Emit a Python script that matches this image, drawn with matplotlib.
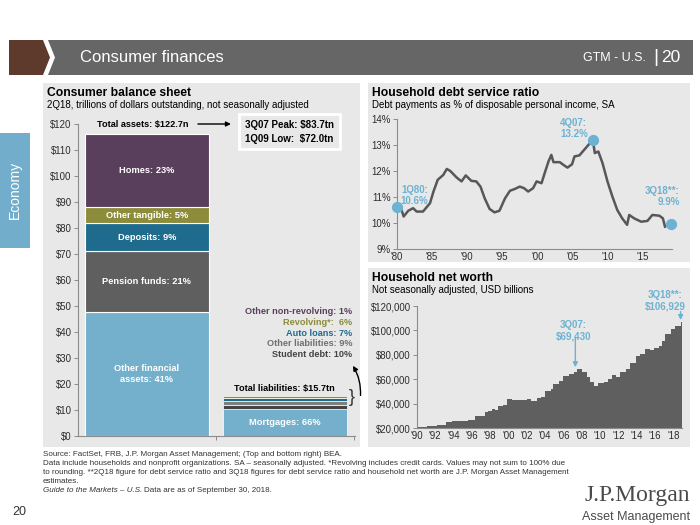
import numpy as np
import matplotlib.pyplot as plt
from matplotlib.patches import Rectangle, Polygon

plt.rcParams['font.family'] = ['Liberation Sans', 'DejaVu Sans']

W, H = 700, 525

# consumer balance sheet, 2Q18, $tn (bottom to top)
asset_labels = ['Other financial\nassets: 41%', 'Pension funds: 21%', 'Deposits: 9%',
                'Other tangible: 5%', 'Homes: 23%']
asset_vals = [47.7, 23.4, 10.7, 6.1, 28.3]
asset_cols = ['#74b0cc', '#5f5f5f', '#1f6b8e', '#8c8c3a', '#5a3f5c']

liab_labels = ['Mortgages: 66%', 'Student debt: 10%', 'Other liabilities: 9%',
               'Auto loans: 7%', 'Other non-revolving: 1%', 'Revolving*:  6%']
liab_vals = [10.36, 1.57, 1.41, 1.10, 0.16, 0.94]
liab_cols = ['#74b0cc', '#444444', '#7f7f7f', '#1f6b8e', '#5a3f5c', '#8c8c3a']

# legend list on the right of the liabilities bar (top to bottom)
liab_list = ['Other non-revolving: 1%', 'Revolving*:  6%', 'Auto loans: 7%',
             'Other liabilities: 9%', 'Student debt: 10%']
liab_list_cols = ['#5a3f5c', '#8c8c3a', '#1f6b8e', '#6f6f6f', '#444444']

# household debt service ratio, %
dsr_year = [1980.0, 1980.4, 1980.95, 1981.6, 1982.3, 1982.8, 1983.7, 1984.7, 1985.2, 1985.8,
            1986.6, 1987.1, 1987.6, 1988.5, 1989.2, 1989.8, 1990.6, 1991.3, 1991.9, 1992.5,
            1993.2, 1993.9, 1994.6, 1995.4, 1996.1, 1996.8, 1997.5, 1998.1, 1998.7, 1999.4,
            1999.9, 2000.6, 2001.1, 2001.6, 2002.0, 2002.3, 2003.2, 2003.7, 2004.3, 2004.95,
            2005.3, 2006.0, 2006.7, 2007.4, 2007.9, 2008.2, 2008.7, 2009.3, 2010.0, 2010.7,
            2011.4, 2012.1, 2012.8, 2013.1, 2013.8, 2014.8, 2015.7, 2016.4, 2017.4, 2017.9,
            2018.2]
dsr_val = [10.6, 10.70, 10.25, 10.47, 10.57, 10.44, 10.44, 10.76, 11.21, 11.66,
           11.85, 12.08, 12.00, 11.75, 11.60, 11.83, 11.62, 11.60, 11.40, 10.95,
           10.54, 10.41, 10.47, 10.95, 11.24, 11.31, 11.40, 11.34, 11.21, 11.34,
           11.60, 11.53, 11.96, 12.37, 12.62, 12.34, 12.34, 12.24, 12.13, 12.26,
           12.56, 12.60, 12.82, 13.04, 13.20, 12.69, 12.75, 12.30, 11.60, 11.02,
           10.50, 10.18, 9.93, 10.31, 10.18, 10.05, 10.08, 10.31, 10.28, 10.18,
           9.86]
dsr_pt_year = [1980.0, 2007.9, 2019.0]
dsr_pt_val = [10.6, 13.2, 9.97]

# household net worth, USD bn
nw_year = [1990.0, 1991.1, 1992.2, 1993.2, 1993.8, 1994.7, 1995.6, 1996.3, 1997.1, 1997.4,
           1997.8, 1998.2, 1998.5, 1998.9, 1999.4, 1999.8, 2000.4, 2000.9, 2001.5, 2002.0,
           2002.5, 2003.1, 2003.5, 2004.0, 2004.6, 2004.9, 2005.5, 2006.0, 2006.6, 2007.1,
           2007.5, 2008.0, 2008.6, 2008.9, 2009.3, 2009.8, 2010.4, 2010.9, 2011.3, 2011.7,
           2012.2, 2012.8, 2013.3, 2013.9, 2014.4, 2014.9, 2015.5, 2015.9, 2016.4, 2016.8,
           2017.1, 2017.7, 2018.2, 2018.8, 2018.95]
nw_val = [21060, 21900, 22700, 24600, 25400, 26000, 26800, 29500, 30100, 32800,
          33600, 35500, 35000, 38200, 39100, 43700, 43100, 43100, 42600, 43700,
          42300, 45000, 45600, 50500, 51900, 56000, 58700, 62800, 64600, 66000,
          68000, 65500, 61400, 57900, 54600, 56800, 57900, 60100, 63300, 61400,
          66000, 68200, 73600, 79100, 80500, 84600, 84000, 85900, 87300, 91400,
          96900, 100900, 103600, 106929]

BG = '#e8e8e8'
BLUE_TXT = '#6cb2d2'
DARK = '#333333'


def box(x0, y0, x1, y1):
    return [x0 / W, 1 - y1 / H, (x1 - x0) / W, (y1 - y0) / H]


def fx(x):
    return x / W


def fy(y):
    return 1 - y / H


fig = plt.figure(figsize=(7, 5.25), dpi=100)
fig.patch.set_facecolor('white')

# header
fig.patches.append(Polygon([(fx(9), fy(40)), (fx(43), fy(40)), (fx(50), fy(57.5)),
                            (fx(43), fy(75)), (fx(9), fy(75))],
                           closed=True, transform=fig.transFigure, fc='#5e3a2d', ec='none'))
fig.patches.append(Polygon([(fx(48), fy(40)), (fx(693), fy(40)), (fx(693), fy(75)),
                            (fx(48), fy(75)), (fx(55), fy(57.5))],
                           closed=True, transform=fig.transFigure, fc='#666666', ec='none'))
fig.text(fx(80), fy(58), 'Consumer finances', color='white', fontsize=12,
         va='center', ha='left')
fig.text(fx(680), fy(57), '20', color='white', fontsize=12.5, va='center', ha='right')
fig.text(fx(656), fy(57), '|', color='white', fontsize=14, va='center', ha='center')
fig.text(fx(646), fy(58), 'GTM - U.S.', color='white', fontsize=9, va='center', ha='right')

# panels
for b in [(43, 83, 360, 447), (368, 83, 690, 262), (368, 268, 690, 447)]:
    fig.patches.append(Rectangle((fx(b[0]), fy(b[3])), (b[2] - b[0]) / W, (b[3] - b[1]) / H,
                                 transform=fig.transFigure, fc=BG, ec='none', zorder=0))

# side tab
fig.patches.append(Rectangle((0, fy(248)), 30 / W, 115 / H, transform=fig.transFigure,
                             fc='#72aecb', ec='none'))
fig.text(fx(15), fy(190), 'Economy', color='white', fontsize=10,
         rotation=90, ha='center', va='center')

# titles
fig.text(fx(47), fy(93), 'Consumer balance sheet', fontsize=8.7, fontweight='bold',
         color='black', va='center')
fig.text(fx(47), fy(105), '2Q18, trillions of dollars outstanding, not seasonally adjusted',
         fontsize=7, color='black', va='center')
fig.text(fx(372), fy(93), 'Household debt service ratio', fontsize=8.7, fontweight='bold',
         color='black', va='center')
fig.text(fx(372), fy(105), 'Debt payments as % of disposable personal income, SA',
         fontsize=7, color='black', va='center')
fig.text(fx(372), fy(278), 'Household net worth', fontsize=8.7, fontweight='bold',
         color='black', va='center')
fig.text(fx(372), fy(290), 'Not seasonally adjusted, USD billions',
         fontsize=7, color='black', va='center')


def style(ax):
    ax.set_zorder(5)
    ax.set_facecolor('none')
    for s in ['top', 'right']:
        ax.spines[s].set_visible(False)
    for s in ['left', 'bottom']:
        ax.spines[s].set_color('#8c8c8c')
        ax.spines[s].set_linewidth(0.8)
    ax.tick_params(colors='#8c8c8c', labelcolor='#2b2b2b', labelsize=6.9, length=3,
                   width=0.7, pad=1.5)


# ---- balance sheet bars ----
ax1 = fig.add_axes(box(78, 124, 355, 436))
style(ax1)
bottom = 0
for lab, v, c in zip(asset_labels, asset_vals, asset_cols):
    ax1.bar(0, v, bottom=bottom, width=0.9, color=c, edgecolor='white', linewidth=0.8)
    ax1.text(0, bottom + v / 2, lab, color='white', fontsize=6.7, fontweight='bold',
             ha='center', va='center', linespacing=1.35)
    bottom += v
bottom = 0
for lab, v, c in zip(liab_labels, liab_vals, liab_cols):
    ax1.bar(1, v, bottom=bottom, width=0.9, color=c, edgecolor='white', linewidth=0.5)
    if lab.startswith('Mortgages'):
        ax1.text(1, bottom + v / 2, lab, color='white', fontsize=6.7, fontweight='bold',
                 ha='center', va='center')
    bottom += v
ax1.set_ylim(0, 120)
ax1.set_xlim(-0.5, 1.51)
ax1.set_yticks(np.arange(0, 121, 10))
ax1.set_yticklabels(['$%d' % t for t in range(0, 121, 10)])
ax1.set_xticks([0.5, 1.5])
ax1.set_xticklabels([])

ax1.text(-0.36, 120, 'Total assets: $122.7n', fontsize=6.6, fontweight='bold', va='center',
         clip_on=False)
ax1.annotate('', xy=(0.63, 120), xytext=(0.35, 120), annotation_clip=False,
             arrowprops=dict(arrowstyle='-|>', color='black', lw=1, mutation_scale=7))
ax1.text(0.71, 117.1, '3Q07 Peak: $83.7tn\n1Q09 Low:  $72.0tn', fontsize=7,
         fontweight='bold', va='center', ha='left', linespacing=1.5, clip_on=False,
         bbox=dict(boxstyle='square,pad=0.6', fc=BG, ec='white', lw=2))
ax1.text(1.0, 18.4, 'Total liabilities: $15.7tn', fontsize=6.6, fontweight='bold',
         ha='center', va='center')
for i, (lab, c) in enumerate(zip(liab_list, liab_list_cols)):
    ax1.text(1.49, 47.7 - i * 4.05, lab, fontsize=6.6, fontweight='bold', color=c,
             ha='right', va='center')
ax1.text(1.462, 14.9, '}', fontsize=13, color=DARK, ha='left', va='center',
         clip_on=False)
ax1.annotate('', xy=(1.495, 27.0), xytext=(1.55, 15.6), annotation_clip=False,
             arrowprops=dict(arrowstyle='-|>', color='black', lw=1, mutation_scale=7,
                             connectionstyle='arc3,rad=0.15', shrinkA=0, shrinkB=0))

# ---- debt service ratio ----
ax2 = fig.add_axes(box(397, 119, 672, 249))
style(ax2)
ax2.plot(dsr_year, dsr_val, color='#575757', lw=1.8, solid_joinstyle='round')
ax2.scatter(dsr_pt_year, dsr_pt_val, s=50, color=BLUE_TXT, zorder=3, clip_on=False)
ax2.set_xlim(1980, 2019.2)
ax2.set_ylim(9, 14)
ax2.set_yticks(range(9, 15))
ax2.set_yticklabels(['%d%%' % t for t in range(9, 15)])
ax2.set_xticks(range(1980, 2016, 5))
ax2.set_xticklabels(["'%02d" % (t % 100) for t in range(1980, 2016, 5)])
ax2.tick_params(axis='x', length=0, pad=2)
ax2.text(1982.5, 11.06, '1Q80:\n10.6%', color=BLUE_TXT, fontsize=7, ha='center',
         va='center', linespacing=1.2, fontweight='bold')
ax2.text(2005.2, 13.63, '4Q07:\n13.2%', color=BLUE_TXT, fontsize=7, ha='center',
         va='center', linespacing=1.2, fontweight='bold')
ax2.text(2020.3, 11.02, '3Q18**:\n9.9%', color=BLUE_TXT, fontsize=7, ha='right',
         va='center', linespacing=1.2, multialignment='right', clip_on=False,
         fontweight='bold')

# ---- net worth ----
ax3 = fig.add_axes(box(417, 306, 682, 428))
style(ax3)
ax3.stairs(nw_val, nw_year, baseline=20000, fill=True, color='#5f5f5f')
ax3.set_xlim(1990, 2018.95)
ax3.set_ylim(20000, 120000)
ax3.set_yticks(range(20000, 120001, 20000))
ax3.set_yticklabels(['${:,}'.format(t) for t in range(20000, 120001, 20000)])
ax3.set_xticks(range(1990, 2019, 2))
ax3.set_xticklabels(["'%02d" % (t % 100) for t in range(1990, 2019, 2)])
ax3.tick_params(axis='x', length=0, pad=2)
ax3.text(2007.1, 99600, '3Q07:\n$69,430', color=BLUE_TXT, fontsize=7, ha='center',
         va='center', linespacing=1.2, fontweight='bold')
ax3.annotate('', xy=(2007.3, 69800), xytext=(2007.3, 93500),
             arrowprops=dict(arrowstyle='-|>', color=BLUE_TXT, lw=1, mutation_scale=7,
                             shrinkA=0, shrinkB=0))
ax3.text(2017.1, 124000, '3Q18**:\n$106,929', color=BLUE_TXT, fontsize=7, ha='center',
         va='center', linespacing=1.2, fontweight='bold', clip_on=False)
ax3.annotate('', xy=(2018.8, 108500), xytext=(2018.8, 115500), annotation_clip=False,
             arrowprops=dict(arrowstyle='-|>', color=BLUE_TXT, lw=1, mutation_scale=7,
                             shrinkA=0, shrinkB=0))

# ---- footer ----
foot = ['Source: FactSet, FRB, J.P. Morgan Asset Management; (Top and bottom right) BEA.',
        'Data include households and nonprofit organizations. SA \u2013 seasonally adjusted. '
        '*Revolving includes credit cards. Values may not sum to 100% due',
        'to rounding. **2Q18 figure for debt service ratio and 3Q18 figures for debt service '
        'ratio and household net worth are J.P. Morgan Asset Management',
        'estimates.']
FS = 5.8
for i, line in enumerate(foot):
    fig.text(fx(43), fy(454 + i * 9.2), line, fontsize=FS, color=DARK, va='center')
t_it = fig.text(fx(43), fy(491), 'Guide to the Markets \u2013 U.S.', fontsize=FS,
                color=DARK, va='center', style='italic')
fig.canvas.draw()
bb = t_it.get_window_extent(fig.canvas.get_renderer())
fig.text(bb.x1 / W + 2 / W, fy(491), 'Data are as of September 30, 2018.', fontsize=FS,
         color=DARK, va='center')

fig.text(fx(12), fy(512), '20', fontsize=9, color=DARK, va='center')
fig.text(fx(690), fy(496), 'J.P.Morgan', fontsize=17, color='#4a4a4a', ha='right',
         va='center', family=['Liberation Serif', 'DejaVu Serif'])
fig.text(fx(690), fy(517), 'Asset Management', fontsize=9, color='#4a4a4a', ha='right',
         va='center')

fig.savefig('out.png', dpi=100)
